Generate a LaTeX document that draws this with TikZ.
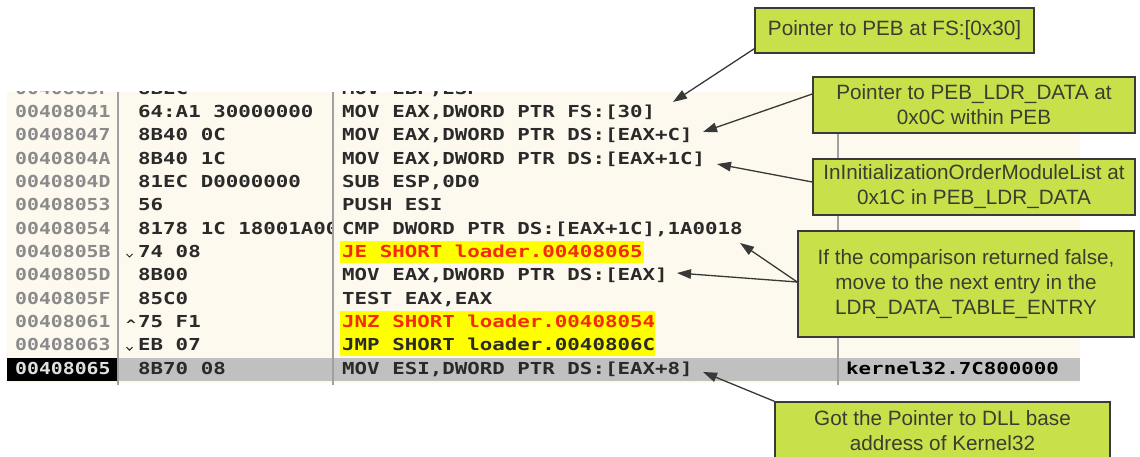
\documentclass[tikz,border=0pt]{standalone}
\usepackage{fontspec}
\setmainfont{Liberation Sans}
\newfontfamily\codefont[FakeStretch=1.26]{DejaVu Sans Mono}
\newfontfamily\addrfont[FakeStretch=1.2]{DejaVu Sans Mono}
\usetikzlibrary{arrows.meta}
\definecolor{cream}{HTML}{FDF9EE}
\definecolor{bandgray}{HTML}{C0C0C0}
\definecolor{hiyellow}{HTML}{FFFF00}
\definecolor{jred}{HTML}{F52A0A}
\definecolor{codetext}{HTML}{2A2A2A}
\definecolor{addrtext}{HTML}{8A8A8A}
\definecolor{sepgray}{HTML}{A0A0A0}
\definecolor{boxfill}{RGB}{200,225,75}
\definecolor{boxline}{HTML}{3A3A3A}
\definecolor{boxtext}{HTML}{3C3C30}
\definecolor{arrowgray}{HTML}{383838}
\tikzset{
  addr/.style={anchor=base west, inner sep=0pt, text=addrtext, font=\addrfont\bfseries\fontsize{16.5}{16.5}\selectfont},
  hexc/.style={anchor=base west, inner sep=0pt, text=codetext, font=\codefont\bfseries\fontsize{16.5}{16.5}\selectfont},
  disc/.style={anchor=base west, inner sep=0pt, text=codetext, font=\codefont\bfseries\fontsize{16.5}{16.5}\selectfont},
  callout/.style={draw=boxline, fill=boxfill, line width=1.5pt, align=center, text=boxtext, inner sep=0pt,
    font=\fontsize{20.7}{25}\selectfont},
  pointer/.style={draw=arrowgray, line width=1.3pt, -{Triangle[length=14pt,width=9.5pt]}},
  sepline/.style={draw=sepgray, line width=1.3pt}
}
\begin{document}
\begin{tikzpicture}[x=1pt,y=-1pt]
\useasboundingbox (0,0) rectangle (1140,457);
% panel
\fill[cream] (7,92) rectangle (1080,383);
% highlights
\fill[hiyellow] (340,241) rectangle (644,263);
\fill[hiyellow] (340,310.9) rectangle (655,332.9);
\fill[hiyellow] (340,332.9) rectangle (655,356.2);
\fill[bandgray] (119,357.5) rectangle (1080,380.5);
\fill[black] (7,357.5) rectangle (118,380.5);
\begin{scope}
\clip (7,92) rectangle (1080,390);
% addresses
\node[addr] (a0) at (15,94.4) {0040803F};
\node[addr] (a1) at (15,117.7) {00408041};
\node[addr] (a2) at (15,141.0) {00408047};
\node[addr] (a3) at (15,164.3) {0040804A};
\node[addr] (a4) at (15,187.6) {0040804D};
\node[addr] (a5) at (15,210.9) {00408053};
\node[addr] (a6) at (15,234.2) {00408054};
\node[addr] (a7) at (15,257.5) {0040805B};
\node[addr] (a8) at (15,280.8) {0040805D};
\node[addr] (a9) at (15,304.1) {0040805F};
\node[addr] (a10) at (15,327.4) {00408061};
\node[addr] (a11) at (15,350.7) {00408063};
\node[addr, text=white!88!black] (a12) at (15,374.0) {00408065};
% disassembly
\node[disc] (d0) at (342,94.4) {MOV EBP,ESP};
\node[disc] (d1) at (342,117.7) {MOV EAX,DWORD PTR FS:[30]};
\node[disc] (d2) at (342,141.0) {MOV EAX,DWORD PTR DS:[EAX+C]};
\node[disc] (d3) at (342,164.3) {MOV EAX,DWORD PTR DS:[EAX+1C]};
\node[disc] (d4) at (342,187.6) {SUB ESP,0D0};
\node[disc] (d5) at (342,210.9) {PUSH ESI};
\node[disc] (d6) at (342,234.2) {CMP DWORD PTR DS:[EAX+1C],1A0018};
\node[disc, text=jred] (d7) at (342,257.5) {JE SHORT loader.00408065};
\node[disc] (d8) at (342,280.8) {MOV EAX,DWORD PTR DS:[EAX]};
\node[disc] (d9) at (342,304.1) {TEST EAX,EAX};
\node[disc, text=jred] (d10) at (342,327.4) {JNZ SHORT loader.00408054};
\node[disc] (d11) at (342,350.7) {JMP SHORT loader.0040806C};
\node[disc] (d12) at (342,374.0) {MOV ESI,DWORD PTR DS:[EAX+8]};
\node[disc, text=black] (c12) at (846,374.0) {kernel32.7C800000};
\end{scope}
\begin{scope}
\clip (119,92) rectangle (333,390);
\node[hexc] (h0) at (138,94.4) {8BEC};
\node[hexc] (h1) at (138,117.7) {64:A1 30000000};
\node[hexc] (h2) at (138,141.0) {8B40 0C};
\node[hexc] (h3) at (138,164.3) {8B40 1C};
\node[hexc] (h4) at (138,187.6) {81EC D0000000};
\node[hexc] (h5) at (138,210.9) {56};
\node[hexc] (h6) at (138,234.2) {8178 1C 18001A00};
\node[hexc] (h7) at (138,257.5) {74 08};
\node[hexc] (h8) at (138,280.8) {8B00};
\node[hexc] (h9) at (138,304.1) {85C0};
\node[hexc] (h10) at (138,327.4) {75 F1};
\node[hexc] (h11) at (138,350.7) {EB 07};
\node[hexc] (h12) at (138,374.0) {8B70 08};
\node[hexc, anchor=base west] (m10) at (126,329.4) {\fontsize{13}{13}\selectfont\^{}};
\end{scope}
% jump marks
\draw[codetext, line width=1pt] (126.5,254) -- (129.5,257) -- (132.5,254);
\draw[codetext, line width=1pt] (126.5,347.2) -- (129.5,350.2) -- (132.5,347.2);
% separators
\draw[sepline] (118,92) -- (118,385);
\draw[sepline] (333,92) -- (333,385);
\draw[sepline] (838,92) -- (838,385);
% callouts
\node[callout, minimum width=279pt, minimum height=45pt] (b1) at (894.5,30.5) {Pointer to PEB at FS:[0x30]};
\node[callout, minimum width=322pt, minimum height=56pt] (b2) at (974,105) {Pointer to PEB\_LDR\_DATA at\\0x0C within PEB};
\node[callout, minimum width=322pt, minimum height=56pt] (b3) at (974,187) {InInitializationOrderModuleList at\\0x1C in PEB\_LDR\_DATA};
\node[callout, minimum width=336pt, minimum height=106pt] (b4) at (966,284) {If the comparison returned false,\\move to the next entry in the\\LDR\_DATA\_TABLE\_ENTRY};
\node[callout, minimum width=335pt, minimum height=57pt] (b5) at (942.5,430.5) {Got the Pointer to DLL base\\address of Kernel32};
% arrow targets
\coordinate (t1) at (673,102);
\coordinate (t2) at (703,132);
\coordinate (t3) at (717,164);
\coordinate (t4a) at (740,243);
\coordinate (t4b) at (677,273);
\coordinate (t5) at (703,372);
\draw[pointer] ([yshift=5pt]b1.south west) -- (t1);
\draw[pointer] ([yshift=11pt]b2.west) -- (t2);
\draw[pointer] ([yshift=5pt]b3.west) -- (t3);
\draw[pointer] ([yshift=2pt]b4.west) -- (t4a);
\draw[pointer] ([yshift=2pt]b4.west) -- (t4b);
\draw[pointer] (b5.north west) -- (t5);
\end{tikzpicture}
\end{document}
